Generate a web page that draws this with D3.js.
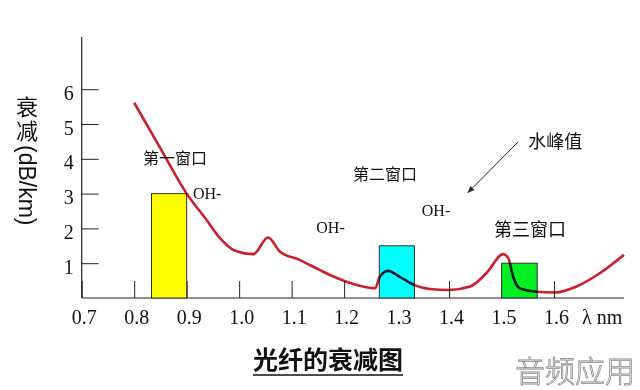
<!DOCTYPE html>
<html>
<head>
<meta charset="utf-8">
<script src="https://cdn.jsdelivr.net/npm/d3@7"></script>
<style>
  body { margin: 0; background: #fff; }
  svg { display: block; }
  .serif { font-family: "Liberation Serif", "Times New Roman", serif; }
  .cjk { font-family: "Noto Sans CJK SC", sans-serif; }
</style>
</head>
<body>
<div id="chart"></div>
<script>
// wavelength (um) vs attenuation (dB/km)
var curveX = [0.80, 0.85, 0.90, 0.938, 0.964, 0.989, 1.027, 1.055, 1.078, 1.116, 1.154, 1.192, 1.230, 1.259,
              1.268, 1.284, 1.306, 1.334, 1.363, 1.400, 1.440, 1.471, 1.503, 1.513, 1.522, 1.535, 1.567,
              1.602, 1.643, 1.687, 1.733];
var curveY = [5.61, 4.30, 3.00, 2.24, 1.71, 1.38, 1.26, 1.74, 1.33, 1.09, 0.80, 0.54, 0.35, 0.28,
              0.61, 0.78, 0.61, 0.37, 0.26, 0.23, 0.33, 0.71, 1.26, 1.14, 0.61, 0.28, 0.18,
              0.16, 0.33, 0.71, 1.24];

// transmission windows
var windowStart = [0.833, 1.267, 1.500];
var windowEnd   = [0.900, 1.334, 1.568];
var windowLoss  = [3.0, 1.5, 1.0];
var windowColor = ["#ffff00", "#00ffff", "#00ee22"];

var xTicks = [0.7, 0.8, 0.9, 1.0, 1.1, 1.2, 1.3, 1.4, 1.5, 1.6];
var yTicks = [1, 2, 3, 4, 5, 6];

var labelText = ["第一窗口", "OH-", "OH-", "第二窗口", "OH-", "第三窗口", "水峰值"];
var labelX    = [0.878, 0.912, 1.147, 1.278, 1.348, 1.554, 1.551];
var labelY    = [3.85, 2.84, 1.87, 3.39, 2.36, 1.78, 4.31];

var width = 640, height = 390;
// note: "top" is taken by window.top, so use own names
var plotLeft = 81.7, plotRight = 624, plotTop = 37, plotBottom = 298;

var x = d3.scaleLinear().domain([0.7, 1.7333]).range([plotLeft, plotRight]);
var y = d3.scaleLinear().domain([0, 7.5]).range([plotBottom, plotTop]);

var svg = d3.select("#chart").append("svg")
    .attr("width", width)
    .attr("height", height);

// x axis: ticks go up, labels below
var xAxis = d3.axisBottom(x)
    .tickValues(xTicks)
    .tickSizeInner(-17)
    .tickSizeOuter(0)
    .tickPadding(12)
    .tickFormat(d3.format(".1f"));

var gx = svg.append("g")
    .attr("transform", "translate(0," + plotBottom + ")")
    .call(xAxis);
gx.select(".domain").remove();
gx.selectAll("line").attr("stroke", "#222");
gx.selectAll("text")
    .attr("class", "serif")
    .style("font-size", "20px")
    .attr("fill", "#111")
    .attr("dx", 2);

svg.append("line")
    .attr("x1", plotLeft).attr("x2", plotRight)
    .attr("y1", plotBottom).attr("y2", plotBottom)
    .attr("stroke", "#222").attr("stroke-width", 1.2);

svg.append("text")
    .attr("class", "serif")
    .attr("x", x(1.6) + 28)
    .attr("y", plotBottom + 26)
    .style("font-size", "20px")
    .attr("fill", "#111")
    .text("λ nm");

// y axis: ticks go right
var yAxis = d3.axisLeft(y)
    .tickValues(yTicks)
    .tickSizeInner(-17)
    .tickSizeOuter(0)
    .tickPadding(8)
    .tickFormat(d3.format("d"));

var gy = svg.append("g")
    .attr("transform", "translate(" + plotLeft + ",0)")
    .call(yAxis);
gy.select(".domain").remove();
gy.selectAll("line").attr("stroke", "#222");
gy.selectAll("text")
    .attr("class", "serif")
    .style("font-size", "20px")
    .attr("fill", "#111")
    .attr("dy", "0.5em");

svg.append("line")
    .attr("x1", plotLeft).attr("x2", plotLeft)
    .attr("y1", plotTop).attr("y2", plotBottom)
    .attr("stroke", "#222").attr("stroke-width", 1.2);

// window bars
var bars = windowStart.map(function(d, i) {
    return {x0: d, x1: windowEnd[i], v: windowLoss[i], c: windowColor[i]};
});
svg.selectAll(".bar")
    .data(bars)
    .enter().append("rect")
    .attr("class", "bar")
    .attr("x", d => x(d.x0))
    .attr("width", d => x(d.x1) - x(d.x0))
    .attr("y", d => y(d.v))
    .attr("height", d => y(0) - y(d.v))
    .attr("fill", d => d.c)
    .attr("stroke", "#333")
    .attr("stroke-width", 1);

// attenuation curve
var pts = curveX.map((d, i) => [d, curveY[i]]);
var line = d3.line()
    .x(d => x(d[0]))
    .y(d => y(d[1]))
    .curve(d3.curveMonotoneX);

svg.append("path")
    .attr("d", line(pts))
    .attr("fill", "none")
    .attr("stroke", "#cc1f2a")
    .attr("stroke-width", 2.6)
    .style("mix-blend-mode", "multiply");

// annotations
svg.selectAll(".note")
    .data(labelText)
    .enter().append("text")
    .attr("class", d => d === "OH-" ? "note serif" : "note cjk")
    .attr("x", (d, i) => x(labelX[i]))
    .attr("y", (d, i) => y(labelY[i]))
    .attr("text-anchor", d => (d === "OH-" || d === "水峰值") ? "start" : "middle")
    .style("font-size", (d, i) => d === "OH-" ? "16px" : (i >= 5 ? "18px" : "16px"))
    .attr("fill", "#111")
    .text(d => d);

// arrow to water peak
svg.append("defs").append("marker")
    .attr("id", "arrow")
    .attr("viewBox", "0 0 10 10")
    .attr("refX", 9).attr("refY", 5)
    .attr("markerWidth", 7).attr("markerHeight", 7)
    .attr("orient", "auto")
    .append("path")
    .attr("d", "M0,1 L10,5 L0,9 Z")
    .attr("fill", "#222");

svg.append("line")
    .attr("x1", x(1.532)).attr("y1", y(4.49))
    .attr("x2", x(1.436)).attr("y2", y(3.03))
    .attr("stroke", "#222")
    .attr("stroke-width", 1)
    .attr("marker-end", "url(#arrow)");

// y title: chinese upright, unit turned 90 degrees
var ytitle = svg.append("g").attr("fill", "#111");
ytitle.selectAll(".ych")
    .data(["衰", "减"])
    .enter().append("text")
    .attr("class", "ych cjk")
    .attr("x", 27)
    .attr("y", (d, i) => 115 + i * 24)
    .attr("text-anchor", "middle")
    .style("font-size", "22px")
    .text(d => d);
ytitle.append("text")
    .attr("transform", "translate(19,145) rotate(90)")
    .style("font-family", "'Liberation Sans', Arial, sans-serif")
    .style("font-size", "23px")
    .text("(dB/km)");

// chart title, underlined
var title = svg.append("text")
    .attr("class", "cjk")
    .attr("x", 328)
    .attr("y", 369)
    .attr("text-anchor", "middle")
    .style("font-size", "25px")
    .style("font-weight", "bold")
    .attr("fill", "#111")
    .text("光纤的衰减图");
var tw = title.node().getComputedTextLength();
svg.append("line")
    .attr("x1", 328 - tw / 2).attr("x2", 328 + tw / 2)
    .attr("y1", 375).attr("y2", 375)
    .attr("stroke", "#111").attr("stroke-width", 1.5);

// watermark
svg.append("text")
    .attr("class", "cjk")
    .attr("x", 575)
    .attr("y", 382)
    .attr("text-anchor", "middle")
    .style("font-size", "30px")
    .style("font-weight", "300")
    .attr("fill", "#fff")
    .attr("stroke", "#8a8a8a")
    .attr("stroke-width", 0.8)
    .text("音频应用");
</script>
</body>
</html>
